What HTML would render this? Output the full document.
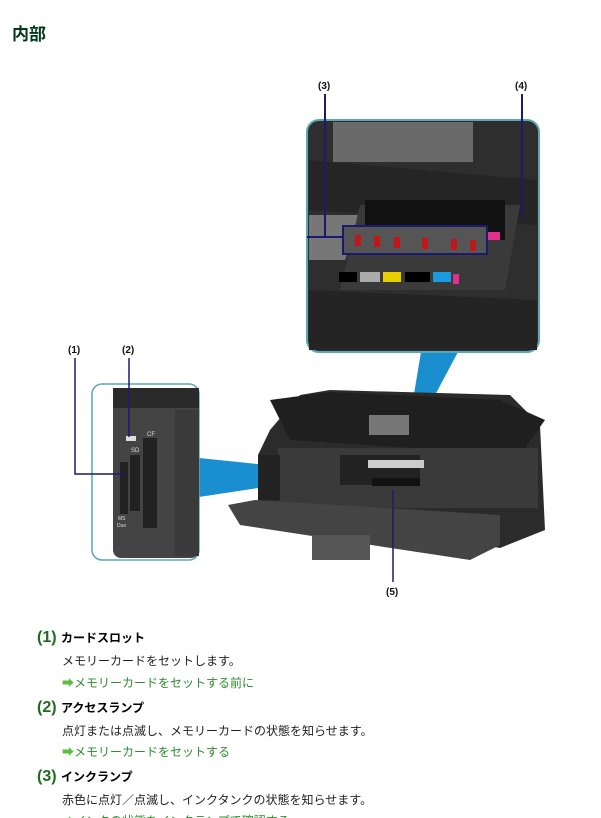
<!DOCTYPE html>
<html><head><meta charset="utf-8"><style>
html,body{margin:0;padding:0;background:#fff;width:601px;height:818px;overflow:hidden;position:relative;font-family:"Liberation Sans","Noto Sans CJK JP",sans-serif}
.t{position:absolute;white-space:nowrap}
h1{position:absolute;left:12px;top:20px;margin:0;font-size:17px;font-weight:bold;color:#003a1a}
.num{color:#1f6b1f;font-weight:bold;font-size:16px}
.hd{font-weight:bold;font-size:12px;color:#000}
.d{font-size:12px;color:#222}
.l{font-size:12px;color:#2e8b2e}
.ar{color:#5cbf3a}
svg{position:absolute;left:0;top:0}
</style></head><body>
<h1>内部</h1>
<svg width="601" height="610" viewBox="0 0 601 610">
<!-- wedges -->
<polygon points="421,352 458,352 410,442 406,442" fill="#1a8fd0"/>
<polygon points="199,458 199,497 258,488 258,464" fill="#1a8fd0"/>
<!-- top zoom box -->
<rect x="307" y="120" width="232" height="232" rx="12" fill="#2e2e2e" stroke="#5aa7b8" stroke-width="2"/>
<rect x="333" y="122" width="140" height="40" fill="#6a6a6a"/>
<polygon points="309,160 537,180 537,225 309,210" fill="#252525"/>
<polygon points="309,215 360,215 345,260 309,260" fill="#777"/>
<polygon points="360,205 520,205 505,290 340,290" fill="#3a3a3a"/>
<rect x="365" y="200" width="140" height="40" fill="#111"/>
<rect x="370" y="225" width="20" height="10" fill="#eee"/><rect x="392" y="225" width="20" height="10" fill="#ccc"/>
<rect x="415" y="225" width="20" height="10" fill="#e8d000"/><rect x="438" y="225" width="38" height="10" fill="#fff"/>
<rect x="463" y="230" width="18" height="8" fill="#2aa0e0"/><rect x="482" y="232" width="18" height="8" fill="#e0308c"/>
<rect x="343" y="226" width="144" height="28" fill="#555" stroke="#1c1a6e" stroke-width="2"/>
<g fill="#c01818"><rect x="355" y="235" width="6" height="11"/><rect x="374" y="236" width="6" height="11"/><rect x="394" y="237" width="6" height="11"/><rect x="422" y="238" width="6" height="11"/><rect x="451" y="239" width="6" height="11"/><rect x="470" y="240" width="6" height="11"/></g>
<rect x="339" y="272" width="18" height="10" fill="#000"/><rect x="360" y="272" width="20" height="10" fill="#aaa"/>
<rect x="383" y="272" width="18" height="10" fill="#e8d000"/><rect x="405" y="272" width="25" height="10" fill="#000"/>
<rect x="433" y="272" width="18" height="10" fill="#1a9be0"/><rect x="453" y="274" width="6" height="10" fill="#e0308c"/>
<polygon points="309,290 537,300 537,350 309,350" fill="#242424"/>
<line x1="325" y1="94" x2="325" y2="237" stroke="#1c1a6e" stroke-width="2"/>
<line x1="307" y1="237" x2="343" y2="237" stroke="#1c1a6e" stroke-width="2"/>
<line x1="522" y1="94" x2="522" y2="217" stroke="#1c1a6e" stroke-width="2"/>
<!-- left zoom box -->
<rect x="92" y="384" width="107" height="176" rx="10" fill="#fff" stroke="#5aa7b8" stroke-width="1.5"/>
<rect x="113" y="388" width="86" height="170" rx="8" fill="#444"/>
<rect x="113" y="388" width="86" height="20" fill="#2a2a2a"/>
<rect x="175" y="410" width="24" height="146" fill="#3a3a3a"/>
<rect x="143" y="438" width="14" height="90" fill="#222"/>
<rect x="130" y="455" width="10" height="56" fill="#222"/>
<rect x="120" y="462" width="8" height="52" fill="#222"/>
<rect x="126" y="436" width="10" height="5" fill="#ddd"/>
<text x="147" y="436" font-size="6" fill="#ddd" font-family="Liberation Sans">CF</text>
<text x="131" y="452" font-size="6" fill="#ddd" font-family="Liberation Sans">SD</text>
<text x="118" y="520" font-size="5" fill="#ddd" font-family="Liberation Sans">MS</text>
<text x="117" y="527" font-size="5" fill="#ddd" font-family="Liberation Sans">Duo</text>
<polyline points="75,358 75,474 124,474" fill="none" stroke="#1c1a6e" stroke-width="1.5"/>
<line x1="129" y1="358" x2="129" y2="437" stroke="#1c1a6e" stroke-width="1.5"/>
<!-- printer -->
<polygon points="300,395 330,390 510,395 540,425 545,530 500,548 258,505 258,455 270,430" fill="#2b2b2b"/>
<polygon points="270,400 330,392 500,400 545,420 520,455 290,440" fill="#1f1f1f"/>
<rect x="369" y="415" width="40" height="20" fill="#777"/>
<rect x="278" y="448" width="260" height="60" fill="#3a3a3a"/>
<rect x="340" y="455" width="80" height="30" fill="#222"/>
<rect x="368" y="460" width="56" height="8" fill="#ccc"/>
<rect x="372" y="478" width="48" height="8" fill="#111"/>
<polygon points="228,505 255,500 500,515 500,545 470,560 240,525" fill="#444"/>
<rect x="312" y="535" width="58" height="25" fill="#555"/>
<rect x="258" y="455" width="22" height="45" fill="#222"/>
<line x1="393" y1="490" x2="393" y2="582" stroke="#1c1a6e" stroke-width="1.5"/>
<g font-family="Liberation Sans" font-weight="bold" font-size="10" fill="#111">
<text x="318" y="89">(3)</text><text x="515" y="89">(4)</text>
<text x="68" y="353">(1)</text><text x="122" y="353">(2)</text>
<text x="386" y="595">(5)</text></g>
</svg>
<div class="t" style="left:37px;top:629px"><span class="num">(1)</span> <span class="hd">カードスロット</span></div>
<div class="t d" style="left:62px;top:652px">メモリーカードをセットします。</div>
<div class="t l" style="left:62px;top:674px"><span class="ar">➡</span>メモリーカードをセットする前に</div>
<div class="t" style="left:37px;top:699px"><span class="num">(2)</span> <span class="hd">アクセスランプ</span></div>
<div class="t d" style="left:62px;top:722px">点灯または点滅し、メモリーカードの状態を知らせます。</div>
<div class="t l" style="left:62px;top:743px"><span class="ar">➡</span>メモリーカードをセットする</div>
<div class="t" style="left:37px;top:768px"><span class="num">(3)</span> <span class="hd">インクランプ</span></div>
<div class="t d" style="left:62px;top:791px">赤色に点灯／点滅し、インクタンクの状態を知らせます。</div>
<div class="t l" style="left:62px;top:812px"><span class="ar">➡</span>インクの状態をインクランプで確認する</div>
</body></html>
